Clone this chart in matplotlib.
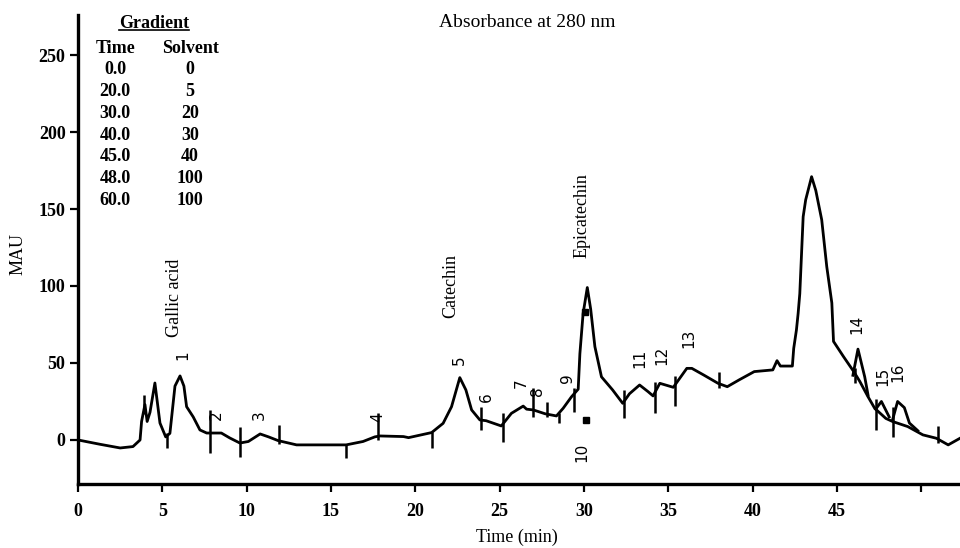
import numpy as np
import matplotlib.pyplot as plt
from matplotlib.lines import Line2D

# chromatogram trace (time in min, MAU)
time = [0, 1.3, 2.5, 3.26, 3.68, 3.77, 3.97, 4.1, 4.27, 4.56, 4.86, 5.2, 5.45, 5.75, 6.05,
        6.28, 6.44, 6.83, 7.23, 7.63, 8.5, 9.0, 9.6, 10.1, 10.8, 11.3, 11.86, 12.96, 15.9,
        16.9, 17.6, 17.9, 19.3, 19.6, 20.97, 21.65, 22.15, 22.64, 23.0, 23.34, 23.83, 24.2,
        25.1, 25.7, 26.4, 26.6, 27.0, 27.7, 28.37, 28.77, 29.26, 29.66, 29.76, 29.95, 30.2,
        30.4, 30.65, 31.04, 31.7, 32.3, 32.7, 33.3, 33.8, 34.1, 34.5, 35.3, 36.1, 36.4, 37.1,
        37.95, 38.5, 39.2, 40.1, 41.2, 41.45, 41.65, 42.36, 42.44, 42.6, 42.7, 42.8, 43.0,
        43.15, 43.5, 43.75, 44.1, 44.4, 44.7, 44.8, 45.4, 46.0, 46.36, 46.85, 47.24, 47.9,
        48.3, 49.2, 50.1, 50.9, 51.6, 52.3]
mau = [0, -2.8, -5.2, -4.3, 0, 12, 23, 12, 18, 37, 11, 2, 4.3, 35, 41.6,
       35, 21.6, 15, 6.5, 4.5, 4.5, 1.3, -2, -1, 3.9, 2, -0.4, -3.2, -3.2,
       -1, 2, 2.6, 2.2, 1.5, 4.8, 10.8, 21.6, 40.5, 32.5, 19.5, 13, 12.5,
       9.1, 17.3, 22, 20, 19.5, 17, 15.6, 20.6, 28, 33, 56, 82, 99,
       85, 60.6, 41, 32.5, 23.8, 30, 35.7, 31.4, 28.6, 36.8, 34.2, 46.5, 46.5, 42.2,
       36.8, 34.6, 39, 44.4, 45.5, 51.5, 48, 48, 59.5, 71.4, 82, 95, 145,
       156, 171, 162, 143, 112.5, 89, 64, 54, 44.4, 38, 28, 20.6, 14,
       12, 8.7, 3.3, 1.1, -3.2, 1.1]

# small overlapping peaks 14, 15, 16
p14_time = [45.95, 46.25, 46.65, 46.85]
p14_mau = [42, 59, 41, 29]
p15_time = [47.3, 47.64, 48.1]
p15_mau = [20, 25, 15]
p16_time = [48.3, 48.6, 49.0, 49.3, 49.8]
p16_mau = [13, 25, 21, 11, 6]

# integrator event marks
mark_time = [3.9, 5.3, 7.8, 9.6, 11.9, 15.9, 17.8, 21.0, 23.9, 25.2, 27.0, 27.8,
             28.5, 29.4, 32.4, 34.2, 35.4, 38.0, 46.1, 47.3, 48.3, 51.0]
mark_top = [29, 4.5, 19.5, 8.4, 9.7, -2.6, 17.5, 5, 21.4, 17.5, 33.8, 24.7,
            17.5, 33.8, 32.5, 37.7, 41.6, 44, 47, 26.6, 21.4, 9]
mark_bottom = [17, -5, -8.4, -11, -2.6, -11.7, 0, -5.4, 6.5, -1.3, 15, 15,
               11, 18, 14.3, 17.5, 22, 33.8, 37, 6.5, 1.9, -2]

square_time = [30.1, 30.05]
square_mau = [13, 83]

grad_time = ['0.0', '20.0', '30.0', '40.0', '45.0', '48.0', '60.0']
grad_solvent = ['0', '5', '20', '30', '40', '100', '100']

peak_labels = ['1', '2', '3', '4', '5', '6', '7', '8', '9', '10',
               '11', '12', '13', '14', '15', '16']
peak_label_t = [6.22, 8.2, 10.75, 17.8, 22.6, 24.2, 26.3, 27.25, 29.05, 29.9,
                33.3, 34.6, 36.2, 46.2, 47.7, 48.6]
peak_label_y = [55, 16, 16, 15, 52, 28, 37, 32, 40, -8,
                53, 55, 66, 75, 41, 44]

compounds = ['Gallic acid', 'Catechin', 'Epicatechin']
compound_t = [5.75, 22.1, 29.9]
compound_y = [92, 100, 146]

serif = 'Liberation Serif'

fig = plt.figure(figsize=(9.6, 5.48), dpi=100)
ax = fig.add_axes([0.08125, 0.1168, 0.91875, 0.8558])

ax.plot(time, mau, color='black', lw=2)
for t, y in [(p14_time, p14_mau), (p15_time, p15_mau), (p16_time, p16_mau)]:
    ax.plot(t, y, color='black', lw=2)
ax.vlines(mark_time, mark_bottom, mark_top, color='black', lw=1.8)
ax.plot(square_time, square_mau, 's', color='black', ms=4)

ax.set_xlim(0, 52.3)
ax.set_ylim(-28.6, 276)
ax.set_xticks(range(0, 55, 5))
ax.set_xticklabels([str(v) for v in range(0, 50, 5)] + [''])
ax.set_yticks(range(0, 251, 50))
for s in ['top', 'right']:
    ax.spines[s].set_visible(False)
for s in ['left', 'bottom']:
    ax.spines[s].set_linewidth(2.4)
ax.tick_params(axis='both', direction='out', length=6, width=1.6, labelsize=13)
ax.tick_params(axis='x', pad=8)
ax.tick_params(axis='y', pad=3)
for lab in ax.get_xticklabels() + ax.get_yticklabels():
    lab.set_fontfamily(serif)
    lab.set_fontweight('bold')

ax.text(0.498, -0.113, 'Time (min)', transform=ax.transAxes, ha='center', va='center',
        fontsize=13, family=serif)
ax.text(-0.068, 0.49, 'MAU', transform=ax.transAxes, ha='center', va='center',
        rotation=90, fontsize=13, family=serif)
ax.text(0.509, 0.985, 'Absorbance at 280 nm', transform=ax.transAxes, ha='center',
        va='center', fontsize=14, family=serif)

# gradient table
g = ax.text(4.5, 270.8, 'Gradient', ha='center', va='center', fontsize=13,
            family=serif, fontweight='bold')
ax.text(2.2, 254.5, 'Time', ha='center', va='center', fontsize=13, family=serif,
        fontweight='bold')
ax.text(6.65, 254.5, 'Solvent', ha='center', va='center', fontsize=13, family=serif,
        fontweight='bold')
for i, (a, b) in enumerate(zip(grad_time, grad_solvent)):
    yy = 240.3 - 14.1 * i
    ax.text(2.2, yy, a, ha='center', va='center', fontsize=13, family=serif, fontweight='bold')
    ax.text(6.65, yy, b, ha='center', va='center', fontsize=13, family=serif, fontweight='bold')

for lab, t, y in zip(peak_labels, peak_label_t, peak_label_y):
    ax.text(t, y, lab, rotation=90, ha='center', va='center', fontsize=11,
            family='DejaVu Sans')
for lab, t, y in zip(compounds, compound_t, compound_y):
    ax.text(t, y, lab, rotation=90, ha='center', va='center', fontsize=13, family=serif)

# underline "Gradient"
fig.canvas.draw()
bb = g.get_window_extent().transformed(fig.transFigure.inverted())
fig.add_artist(Line2D([bb.x0, bb.x1], [bb.y0 + 0.002, bb.y0 + 0.002],
                      transform=fig.transFigure, color='black', lw=1.2))

fig.savefig('out.png', dpi=100)
